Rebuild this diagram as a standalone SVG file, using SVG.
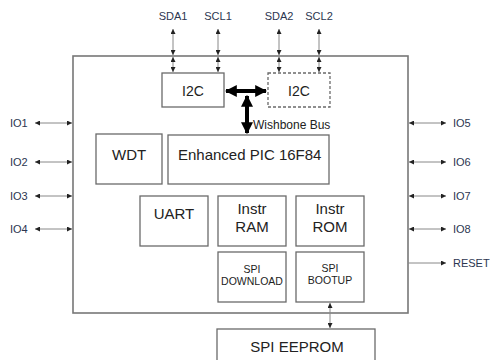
<svg xmlns="http://www.w3.org/2000/svg" width="490" height="360" viewBox="0 0 490 360">
<defs>
<marker id="ah" viewBox="0 0 10 10" refX="10" refY="5" markerWidth="5" markerHeight="5" orient="auto-start-reverse" markerUnits="userSpaceOnUse">
<path d="M0,0 L10,5 L0,10 z" fill="#222"/>
</marker>
<marker id="bh" viewBox="0 0 10 10" refX="9" refY="5" markerWidth="12" markerHeight="12" orient="auto-start-reverse" markerUnits="userSpaceOnUse">
<path d="M0,0 L10,5 L0,10 z" fill="#000"/>
</marker>
<style>
.box{fill:#fff;stroke:#6a6a6a;stroke-width:1.3}
.dash{fill:#fff;stroke:#6a6a6a;stroke-width:1.3;stroke-dasharray:3,2}
.main{fill:#fff;stroke:#777;stroke-width:1.6}
.t{font-family:"Liberation Sans",Arial,sans-serif;fill:#222}
.ext{font-family:"Liberation Sans",Arial,sans-serif;fill:#2c3650;font-size:11px}
.thin{stroke:#888;stroke-width:1;fill:none;marker-start:url(#ah);marker-end:url(#ah)}
.one{stroke:#888;stroke-width:1;fill:none;marker-end:url(#ah)}
.bold{stroke:#000;stroke-width:4;fill:none;marker-start:url(#bh);marker-end:url(#bh)}
</style>
</defs>
<g id="chip"><rect class="main" x="73" y="56" width="335" height="257"/></g>
<g id="i2c1"><rect class="box" x="162" y="73" width="62" height="34"/><text class="t" x="193" y="96" font-size="14" text-anchor="middle">I2C</text></g>
<g id="i2c2"><rect class="dash" x="268" y="73" width="62" height="34"/><text class="t" x="299" y="96" font-size="14" text-anchor="middle">I2C</text></g>
<g id="wdt"><rect class="box" x="96" y="134" width="66" height="50"/><text class="t" x="112" y="160" font-size="15">WDT</text></g>
<g id="pic"><rect class="box" x="168" y="135" width="161" height="49"/><text class="t" x="178" y="160" font-size="15">Enhanced PIC 16F84</text></g>
<g id="uart"><rect class="box" x="140" y="196" width="68" height="50"/><text class="t" x="174" y="219" font-size="15" text-anchor="middle">UART</text></g>
<g id="ram"><rect class="box" x="218" y="196" width="68" height="50"/><text class="t" x="252" y="214" font-size="15" text-anchor="middle">Instr</text><text class="t" x="252" y="232" font-size="15" text-anchor="middle">RAM</text></g>
<g id="rom"><rect class="box" x="296" y="196" width="68" height="50"/><text class="t" x="330" y="214" font-size="15" text-anchor="middle">Instr</text><text class="t" x="330" y="232" font-size="15" text-anchor="middle">ROM</text></g>
<g id="spidl"><rect class="box" x="218" y="252" width="68" height="50"/><text class="t" x="252" y="273" font-size="10.5" text-anchor="middle">SPI</text><text class="t" x="252" y="285" font-size="10.5" text-anchor="middle">DOWNLOAD</text></g>
<g id="spiboot"><rect class="box" x="296" y="252" width="68" height="50"/><text class="t" x="330" y="272" font-size="10.5" text-anchor="middle">SPI</text><text class="t" x="330" y="284" font-size="10.5" text-anchor="middle">BOOTUP</text></g>
<g id="eeprom"><rect class="box" x="217" y="329" width="158" height="40"/><text class="t" x="297" y="352" font-size="15" text-anchor="middle">SPI EEPROM</text></g>
<g id="labels">
<text class="ext" x="173" y="20" text-anchor="middle">SDA1</text>
<text class="ext" x="218" y="20" text-anchor="middle">SCL1</text>
<text class="ext" x="279" y="20" text-anchor="middle">SDA2</text>
<text class="ext" x="319" y="20" text-anchor="middle">SCL2</text>
<text class="ext" x="10" y="127">IO1</text>
<text class="ext" x="10" y="166">IO2</text>
<text class="ext" x="10" y="200">IO3</text>
<text class="ext" x="10" y="233">IO4</text>
<text class="ext" x="453" y="127">IO5</text>
<text class="ext" x="453" y="166">IO6</text>
<text class="ext" x="453" y="200">IO7</text>
<text class="ext" x="453" y="233">IO8</text>
<text class="ext" x="453" y="267">RESET</text>
<text class="t" x="253" y="129" font-size="12" fill="#333">Wishbone Bus</text>
</g>
<g id="connectors">
<line class="thin" x1="173" y1="29" x2="173" y2="55"/>
<line class="thin" x1="173" y1="57" x2="173" y2="72"/>
<line class="thin" x1="218" y1="29" x2="218" y2="55"/>
<line class="thin" x1="218" y1="57" x2="218" y2="72"/>
<line class="thin" x1="279" y1="29" x2="279" y2="55"/>
<line class="thin" x1="279" y1="57" x2="279" y2="72"/>
<line class="thin" x1="319" y1="29" x2="319" y2="55"/>
<line class="thin" x1="319" y1="57" x2="319" y2="72"/>
<line class="thin" x1="35" y1="123" x2="72" y2="123"/>
<line class="thin" x1="35" y1="162" x2="72" y2="162"/>
<line class="thin" x1="35" y1="196" x2="72" y2="196"/>
<line class="thin" x1="35" y1="229" x2="72" y2="229"/>
<line class="thin" x1="409" y1="123" x2="446" y2="123"/>
<line class="thin" x1="409" y1="162" x2="446" y2="162"/>
<line class="thin" x1="409" y1="196" x2="446" y2="196"/>
<line class="thin" x1="409" y1="229" x2="446" y2="229"/>
<line class="one" x1="408" y1="263" x2="446" y2="263"/>
<line class="thin" x1="330" y1="303" x2="330" y2="328"/>
<line class="bold" x1="226" y1="91" x2="266" y2="91"/>
<line class="bold" x1="247" y1="96" x2="247" y2="133"/>
</g>
</svg>
